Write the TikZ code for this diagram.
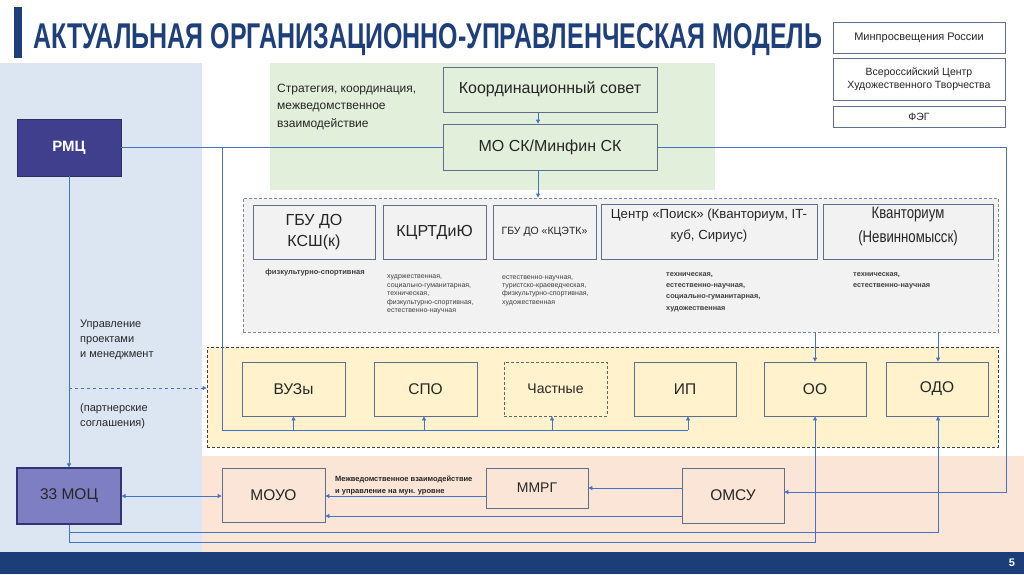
\documentclass[tikz,border=0pt]{standalone}
\usepackage{fontspec}
\setmainfont{Liberation Sans}
\usepackage{graphicx}
\usetikzlibrary{arrows.meta}
\definecolor{ttl}{HTML}{1F3F7A}
\definecolor{foot}{HTML}{1B3E78}
\definecolor{pblue}{HTML}{DCE6F2}
\definecolor{pgreen}{HTML}{E2EFDA}
\definecolor{ppeach}{HTML}{FBE5D6}
\definecolor{pyel}{HTML}{FFF2CC}
\definecolor{pgray}{HTML}{F2F2F2}
\definecolor{lnc}{HTML}{4472C4}
\definecolor{bdr}{HTML}{5F6E8C}
\definecolor{rmcc}{HTML}{403F8E}
\definecolor{mocc}{HTML}{7E7EC2}
\definecolor{txt}{HTML}{262626}
\definecolor{dtxt}{HTML}{404040}
\newcommand\fsz[2]{\fontsize{#1}{#2}\selectfont}
\begin{document}
\begin{tikzpicture}[x=1pt,y=-1pt,
 box/.style={draw=bdr, line width=0.8pt, inner sep=1pt, align=center, text=txt},
 ln/.style={draw=lnc, line width=0.8pt},
 arr/.style={ln, -{Triangle[length=4pt,width=4pt]}},
 arrb/.style={ln, {Triangle[length=4pt,width=4pt]}-{Triangle[length=4pt,width=4pt]}},
 desc/.style={inner sep=0, align=left, text=dtxt, anchor=base west},
 lbl/.style={inner sep=0, align=left, text=txt, anchor=base west},
 dsh/.style={dash pattern=on 3pt off 2pt},
]
\useasboundingbox (0,0) rectangle (1024,574);
\fill[white] (0,0) rectangle (1024,574);
% panels
\fill[pblue] (0,63) rectangle (202,552);
\fill[ppeach] (202,456) rectangle (1024,552);
\fill[pgreen] (270,63) rectangle (715,190);
\fill[foot] (0,552) rectangle (1024,574);
\fill[ttl] (14,7) rectangle (22,58);
\node[inner sep=0, anchor=base west, text=ttl] (title) at (33,48) {\resizebox{789pt}{25pt}{\bfseries АКТУАЛЬНАЯ ОРГАНИЗАЦИОННО-УПРАВЛЕНЧЕСКАЯ МОДЕЛЬ}};
\node[inner sep=0, text=white, font=\bfseries\fsz{11}{12}] (pnum) at (1012,563) {5};

% group boxes
\node[draw=bdr!80, dsh, line width=0.8pt, fill=pgray, minimum width=755, minimum height=134, inner sep=0] (grey) at (620.5,265) {};
\node[draw=dtxt, dsh, line width=0.8pt, fill=pyel, minimum width=791, minimum height=100, inner sep=0] (yel) at (602.5,397) {};

% top right
\node[box, fill=white, minimum width=172, minimum height=31, font=\fsz{11}{13}] (minp) at (919,37.5) {Минпросвещения России};
\node[box, fill=white, minimum width=172, minimum height=42, font=\fsz{10.5}{13.5}] (vsc) at (919,79) {Всероссийский Центр\\Художественного Творчества};
\node[box, fill=white, minimum width=172, minimum height=21, font=\fsz{10.5}{12}] (feg) at (919,116.5) {ФЭГ};

% left column
\node[box, draw=rmcc!70!black, fill=rmcc, text=white, font=\bfseries\fsz{15}{18}, minimum width=104, minimum height=57] (rmc) at (69,147.5) {РМЦ};
\node[box, draw=rmcc!80!black, line width=1.2pt, fill=mocc, font=\fsz{15.5}{18}, minimum width=104, minimum height=56] (moc) at (69,496) {33 МОЦ};

% green
\node[box, fill=pgreen, font=\fsz{16}{19}, minimum width=214, minimum height=45] (ks) at (550,89.5) {Координационный совет};
\node[box, fill=pgreen, font=\fsz{16}{19}, minimum width=214, minimum height=46] (mo) at (550,147) {МО СК/Минфин СК};
\node[lbl, font=\fsz{12}{17.5}] (strat) at (277,127) {Стратегия, координация,\\межведомственное\\взаимодействие};

% grey inner
\node[box, fill=pgray, font=\fsz{16}{21}, minimum width=122, minimum height=54] (gbu) at (314,232) {ГБУ ДО\\КСШ(к)};
\node[box, fill=pgray, font=\fsz{16}{21}, minimum width=103, minimum height=54] (kcr) at (434.5,232) {КЦРТДиЮ};
\node[box, fill=pgray, font=\fsz{10.5}{13}, minimum width=103, minimum height=54] (kce) at (544.5,232) {ГБУ ДО «КЦЭТК»};
\node[box, fill=pgray, minimum width=216, minimum height=55] (poisk) at (709,231.5) {};
\node[inner sep=0, align=center, text=txt, font=\fsz{13.2}{21}] (tpoisk) at ([yshift=6pt]poisk.center) {Центр «Поиск» (Кванториум, IT-\\куб, Сириус)};
\node[box, fill=pgray, minimum width=170, minimum height=55] (kvant) at (908,231.5) {};
\node[inner sep=0, align=center, text=txt, font=\fsz{16.5}{24}] (tkvant) at ([yshift=4.5pt]kvant.center) {\scalebox{0.8}[1]{Кванториум}\\\scalebox{0.8}[1]{(Невинномысск)}};

\node[desc, anchor=base, font=\bfseries\fsz{7.5}{9}] (dgbu) at (315,274.5) {физкультурно-спортивная};
\node[desc, font=\fsz{7}{8.5}] (dkcr) at (387,312.5) {худржественная,\\социально-гуманитарная,\\техническая,\\физкультурно-спортивная,\\естественно-научная};
\node[desc, font=\fsz{7}{8.2}] (dkce) at (502,304) {естественно-научная,\\туристско-краеведческая,\\физкультурно-спортивная,\\художественная};
\node[desc, font=\bfseries\fsz{7.3}{11.3}] (dpoi) at (666,310) {техническая,\\естественно-научная,\\социально-гуманитарная,\\художественная};
\node[desc, font=\bfseries\fsz{7.3}{11.3}] (dkv) at (853,287.3) {техническая,\\естественно-научная};

% yellow inner
\node[box, fill=pyel, font=\fsz{15.5}{18}, minimum width=103, minimum height=54] (vuz) at (293.5,389) {ВУЗы};
\node[box, fill=pyel, font=\fsz{15.5}{18}, minimum width=103, minimum height=54] (spo) at (425.5,389) {СПО};
\node[box, draw=dtxt!80, dsh, fill=pyel, font=\fsz{14}{17}, minimum width=103, minimum height=54] (chast) at (555.5,389) {Частные};
\node[box, fill=pyel, font=\fsz{15.5}{18}, minimum width=102, minimum height=54] (ip) at (685,389) {ИП};
\node[box, fill=pyel, font=\fsz{15.5}{18}, minimum width=102, minimum height=54] (oo) at (815,389) {ОО};
\node[box, fill=pyel, font=\fsz{15.5}{18}, minimum width=102, minimum height=54] (odo) at (937,389) {ОДО};

% peach
\node[box, fill=ppeach, font=\fsz{15.5}{18}, minimum width=103, minimum height=54] (moyo) at (273.5,495) {МОУО};
\node[box, fill=ppeach, font=\fsz{14}{17}, minimum width=102, minimum height=40] (mmrg) at (537,488) {ММРГ};
\node[box, fill=ppeach, font=\fsz{15.5}{18}, minimum width=102, minimum height=55] (omsu) at (733,495.5) {ОМСУ};
\node[desc, text=txt, font=\bfseries\fsz{7.5}{12}] (dmv) at (335,493) {Межведомственное взаимодействие\\и управление на мун. уровне};

% left labels
\node[lbl, font=\fsz{11}{15}] (upr) at (80,357) {Управление\\проектами\\и менеджмент};
\node[lbl, font=\fsz{11}{15}] (part) at (80,426) {(партнерские\\соглашения)};

% connectors
\coordinate (j) at (222,147);
\coordinate (b1) at (222,430);
\coordinate (r1) at (1006,147);
\coordinate (d1) at (69,388);
\coordinate (y1) at (0,532);
\coordinate (y2) at (0,542);
\draw[ln] (rmc.east) -- (rmc.east -| mo.west);
\draw[ln] (j) -- (b1) -- ([xshift=3pt]ip.south |- b1);
\draw[arr] (vuz.south |- b1) -- (vuz.south);
\draw[arr] ([xshift=-1.5pt]spo.south |- b1) -- ([xshift=-1.5pt]spo.south);
\draw[arr] ([xshift=-3.5pt]chast.south |- b1) -- ([xshift=-3.5pt]chast.south);
\draw[arr] ([xshift=3pt]ip.south |- b1) -- ([xshift=3pt]ip.south);
\draw[arr] ([xshift=-12pt]ks.south) -- ([xshift=-12pt]mo.north);
\draw[arr] ([xshift=-12pt]mo.south) -- ([xshift=-12pt]mo.south |- grey.north);
\draw[arr] (mo.east) -- (r1) |- ([yshift=3.5pt]omsu.east);
\draw[arr] (oo.north |- grey.south) -- (oo.north);
\draw[arr] ([xshift=1pt]odo.north |- grey.south) -- ([xshift=1pt]odo.north);
\draw[arr] (rmc.south) -- (moc.north);
\draw[arr, dashed] (d1) -- (d1 -| yel.west);
\draw[arrb] (moc.east) -- (moc.east -| moyo.west);
\draw[arr] ([yshift=-8pt]mmrg.west) -- ([yshift=-8pt]mmrg.west -| moyo.east);
\draw[arr] (mmrg.east -| omsu.west) -- (mmrg.east);
\draw[arr] ([yshift=-20.5pt]omsu.west) -- ([yshift=-20.5pt]omsu.west -| moyo.east);
\draw[arr] (moc.south) |- ([xshift=1pt]odo.south |- y1) -- ([xshift=1pt]odo.south);
\draw[arr] (moc.south) |- (oo.south |- y2) -- (oo.south);
\end{tikzpicture}
\end{document}
